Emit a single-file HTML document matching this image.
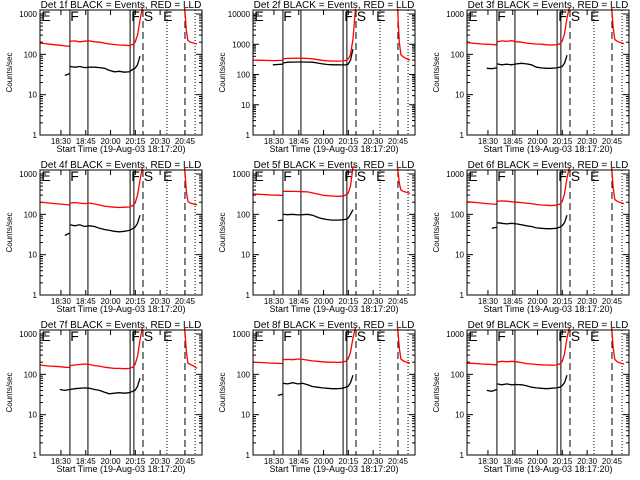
<!DOCTYPE html>
<html><head><meta charset="utf-8"><style>
html,body{margin:0;padding:0;background:#fff;}
svg{display:block;font-family:"Liberation Sans",sans-serif;}
</style></head><body>
<svg id="chart" width="640" height="480" viewBox="0 0 640 480" xmlns="http://www.w3.org/2000/svg"></svg>
<script>
// time axis in minutes from 18:17:20
const times = [0,3,6,9,12,15,17.9,null,18.2,21,24,27,30,33,36,39,42,45,48,51,54,56,57.5,59,60.5,62,null,87.5,88.5,89.5,91,93,95];
const detNames = ["1f","2f","3f","4f","5f","6f","7f","8f","9f"];
const yMaxDecade = [3,4,3,3,3,3,3,3,3];
const redP1 = [190,185,178,172,168,162,158,null,210,215,205,212,215,205,200,190,180,175,170,168,165,175,200,300,700,1500,null,1500,400,220,200,190,180];
const redP2 = [300,298,295,290,288,290,292,null,330,340,345,350,345,340,330,310,295,285,280,278,280,290,320,450,1500,15000,null,15000,1200,450,380,330,300];
const redP3 = [195,190,185,180,178,175,172,null,205,215,210,218,205,200,190,185,180,178,172,170,172,180,210,320,800,1500,null,1500,420,230,210,195,185];
const redP4 = [200,195,190,185,180,175,170,null,190,195,190,185,190,180,170,160,155,150,148,150,152,165,190,300,700,1500,null,1500,380,210,190,180,170];
const redP5 = [320,315,310,305,300,298,295,null,370,372,370,368,365,360,340,320,300,290,285,280,282,300,330,500,1500,1500,null,1500,600,400,370,350,330];
const redP6 = [205,200,195,190,185,180,178,null,210,215,212,205,200,195,190,185,175,170,168,165,168,178,205,320,800,1500,null,1500,420,230,210,195,185];
const redP7 = [170,165,160,158,155,150,148,null,165,170,175,180,175,165,160,150,145,140,140,138,140,150,175,280,700,1500,null,1500,380,190,175,160,140];
const redP8 = [200,198,195,192,190,188,185,null,230,235,230,240,235,225,215,210,205,200,200,198,200,210,240,350,800,1500,null,1500,450,240,215,200,190];
const redP9 = [190,188,185,180,178,175,172,null,200,210,205,210,205,195,185,180,175,172,170,168,170,180,205,320,800,1500,null,1500,420,230,205,190,180];
const blackP1 = [null,null,null,null,null,30,33,null,50,48,50,47,48,48,47,45,40,37,38,36,37,42,45,55,90,null,null,null,null,null,null,null,null];
const blackP2 = [null,null,null,null,210,215,220,null,240,255,258,260,260,258,255,240,225,215,210,210,208,210,220,300,700,null,null,null,null,null,null,null,null];
const blackP3 = [null,null,null,null,45,44,46,null,58,55,57,55,58,60,58,55,48,46,45,45,46,48,50,60,95,null,null,null,null,null,null,null,null];
const blackP4 = [null,null,null,null,null,30,34,null,55,52,55,50,52,50,45,42,40,38,37,38,40,44,48,60,95,null,null,null,null,null,null,null,null];
const blackP5 = [null,null,null,null,null,70,72,null,100,98,100,97,98,100,95,85,78,74,72,72,73,75,80,100,130,null,null,null,null,null,null,null,null];
const blackP6 = [null,null,null,null,null,45,48,null,62,60,58,60,58,55,52,50,46,45,44,44,45,48,52,62,95,null,null,null,null,null,null,null,null];
const blackP7 = [null,null,null,null,42,40,42,null,42,44,45,46,45,42,40,36,33,34,35,34,35,38,40,50,80,null,null,null,null,null,null,null,null];
const blackP8 = [null,null,null,null,null,30,32,null,60,58,62,58,60,55,50,48,46,45,44,44,45,48,50,62,95,null,null,null,null,null,null,null,null];
const blackP9 = [null,null,null,null,40,38,42,null,58,55,58,55,56,55,52,48,46,45,44,45,46,48,52,62,95,null,null,null,null,null,null,null,null];
const redSeries = [redP1,redP2,redP3,redP4,redP5,redP6,redP7,redP8,redP9];
const blackSeries = [blackP1,blackP2,blackP3,blackP4,blackP5,blackP6,blackP7,blackP8,blackP9];
const tickLabels = ["18:30","18:45","20:00","20:15","20:30","20:45"];
const tickTimes = [12.67,27.67,42.67,57.67,72.67,87.67];
const solidLines = [18.1,29,54.5,56.8];
const dashedLines = [62.3,87.7];
const dottedLines = [76.8,93.8];
const markers = [["E",0.8],["F",18.3],["F",55.2],["S",62.8],["E",74.5]];
const tMax = 98;

const NS="http://www.w3.org/2000/svg";
const svg=document.getElementById('chart');
function mk(tag,attrs,parent){const e=document.createElementNS(NS,tag);for(const k in attrs)e.setAttribute(k,attrs[k]);(parent||svg).appendChild(e);return e;}

for(let p=0;p<9;p++){
  const col=p%3,row=Math.floor(p/3);
  const L=[40,253,467][col], T=10+row*160, W=162, H=125, B=T+H;
  const top=yMaxDecade[p];
  const dec = top===4?30:40.3;
  const ymaxLog = top + 4/dec;
  const xs=t=>L+t/tMax*W;
  const ys=v=>B-(Math.log10(Math.max(v,0.5)))/ymaxLog*H;
  const g=mk('g',{});
  
  
  const clipId='c'+p;
  const cp=mk('clipPath',{id:clipId},g);mk('rect',{x:L,y:T-12,width:W,height:H+12},cp);
  const ti=mk('text',{x:L+W/2,y:T-2,'text-anchor':'middle','font-size':'10'},g);
  ti.textContent='Det '+detNames[p]+' BLACK = Events, RED = LLD';
  
  
  const yl=mk('text',{x:0,y:0,transform:`translate(${L-28},${T+H/2}) rotate(-90)`,'text-anchor':'middle','font-size':'8'},g);
  yl.textContent='Counts/sec';
  
  
  const xl=mk('text',{x:L+W/2,y:B+17,'text-anchor':'middle','font-size':'9'},g);
  xl.textContent='Start Time (19-Aug-03 18:17:20)';
  
  
  for(let d=0;d<=top;d++){
    const y=ys(Math.pow(10,d));
    mk('line',{x1:L,x2:L+6,y1:y,y2:y,stroke:'#000'},g);
    mk('line',{x1:L+W-6,x2:L+W,y1:y,y2:y,stroke:'#000'},g);
    const tl=mk('text',{x:L-3,y:y+3,'text-anchor':'end','font-size':'8'},g);
    tl.textContent=String(Math.pow(10,d));
    
    
    for(let m=2;m<10;m++){const v=m*Math.pow(10,d);if(Math.log10(v)>ymaxLog)break;const yy=ys(v);
      mk('line',{x1:L,x2:L+3,y1:yy,y2:yy,stroke:'#000'},g);mk('line',{x1:L+W-3,x2:L+W,y1:yy,y2:yy,stroke:'#000'},g);}
  }
  tickTimes.forEach((t,i)=>{const x=xs(t);
    mk('line',{x1:x,x2:x,y1:B,y2:B-5,stroke:'#000'},g);mk('line',{x1:x,x2:x,y1:T,y2:T+5,stroke:'#000'},g);
    const tl=mk('text',{x:x,y:B+9,'text-anchor':'middle','font-size':'8'},g);
    tl.textContent=tickLabels[i];
    
    
  });
  solidLines.forEach(t=>mk('line',{x1:xs(t),x2:xs(t),y1:T,y2:B,stroke:'#000','stroke-width':1},g));
  dashedLines.forEach(t=>mk('line',{x1:xs(t),x2:xs(t),y1:T,y2:B,stroke:'#000','stroke-dasharray':'7,4'},g));
  dottedLines.forEach(t=>mk('line',{x1:xs(t),x2:xs(t),y1:T,y2:B,stroke:'#000','stroke-dasharray':'1,2'},g));
  markers.forEach(m=>{const tx=mk('text',{x:xs(m[1]),y:T+11,'font-size':'14'},g);tx.textContent=m[0];
    
    });
  [[redSeries[p],'#f00','red-lld-line'],[blackSeries[p],'#000','black-events-line']].forEach(([arr,c,nm])=>{
    let d='',pen=false;
    for(let i=0;i<times.length;i++){
      if(times[i]===null||arr[i]===null){pen=false;continue;}
      d+=(pen?'L':'M')+xs(times[i]).toFixed(1)+','+ys(arr[i]).toFixed(1);pen=true;
    }
    const pa=mk('path',{d:d,fill:'none',stroke:c,'stroke-width':1.3,'clip-path':`url(#${clipId})`},g);
    
    
  });
  mk('rect',{x:L,y:T,width:W,height:H,fill:'none',stroke:'#000'},g);
}
</script>
</body></html>
